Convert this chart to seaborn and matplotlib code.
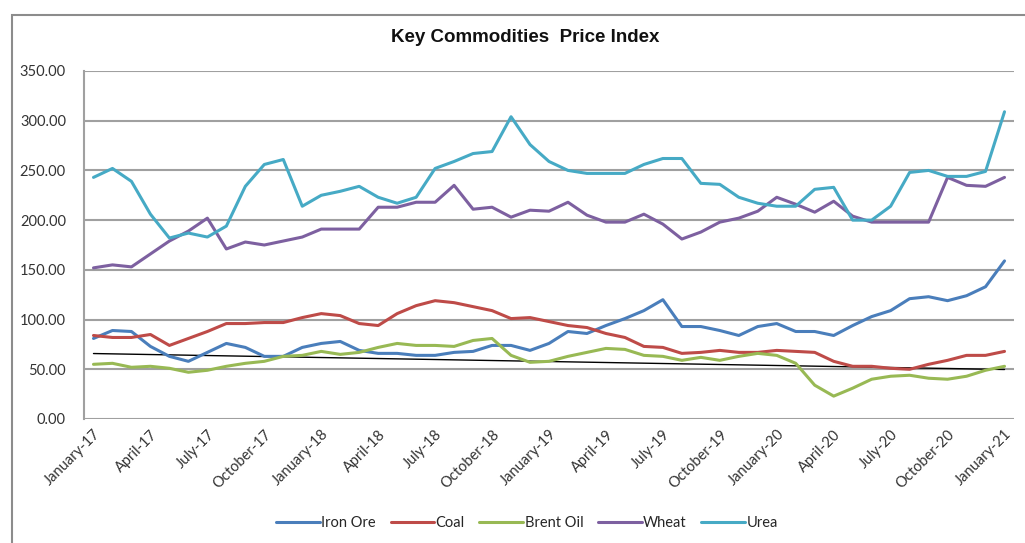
import numpy as np
import pandas as pd
import seaborn as sns
import matplotlib
matplotlib.use("Agg")
from matplotlib import pyplot as plt
from matplotlib.patches import Rectangle

# monthly data, January 2017 .. January 2021
months = pd.date_range("2017-01-01", "2021-01-01", freq="MS")

iron_ore = [81, 89, 88, 73, 63, 58, 67, 76, 72, 63, 63, 72, 76, 78, 69, 66,
            66, 64, 64, 67, 68, 74, 74, 69, 76, 88, 86, 94, 101, 109, 120, 93,
            93, 89, 84, 93, 96, 88, 88, 84, 94, 103, 109, 121, 123, 119, 124, 133,
            159]
coal = [84, 82, 82, 85, 74, 81, 88, 96, 96, 97, 97, 102, 106, 104, 96, 94,
        106, 114, 119, 117, 113, 109, 101, 102, 98, 94, 92, 86, 82, 73, 72, 66,
        67, 69, 67, 67, 69, 68, 67, 58, 53, 53, 51, 50, 55, 59, 64, 64,
        68]
brent_oil = [55, 56, 52, 53, 51, 47, 49, 53, 56, 58, 63, 64, 68, 65, 67, 72,
             76, 74, 74, 73, 79, 81, 64, 57, 58, 63, 67, 71, 70, 64, 63, 59,
             62, 59, 63, 66, 64, 56, 34, 23, 31, 40, 43, 44, 41, 40, 43, 49,
             53]
wheat = [152, 155, 153, 166, 179, 189, 202, 171, 178, 175, 179, 183, 191, 191, 191, 213,
         213, 218, 218, 235, 211, 213, 203, 210, 209, 218, 205, 198, 198, 206, 196, 181,
         188, 198, 202, 209, 223, 216, 208, 219, 204, 198, 198, 198, 198, 243, 235, 234,
         243]
urea = [243, 252, 239, 206, 182, 187, 183, 194, 234, 256, 261, 214, 225, 229, 234, 223,
        217, 223, 252, 259, 267, 269, 304, 276, 259, 250, 247, 247, 247, 256, 262, 262,
        237, 236, 223, 217, 214, 214, 231, 233, 200, 200, 214, 248, 250, 244, 244, 249,
        309]

series_names = ["Iron Ore", "Coal", "Brent Oil", "Wheat", "Urea"]
colors = ["#4A7EBB", "#BE4B48", "#98B954", "#7D60A0", "#46AAC5"]

tick_labels = [m.strftime("%B-%y") for m in months]

df = pd.DataFrame({"Iron Ore": iron_ore, "Coal": coal, "Brent Oil": brent_oil,
                   "Wheat": wheat, "Urea": urea})
df["idx"] = np.arange(len(months))
long_df = df.melt(id_vars="idx", var_name="series", value_name="value")

sns.set_style("white")
plt.rcParams["font.family"] = ["Lato", "DejaVu Sans"]

fig = plt.figure(figsize=(10.25, 5.43), dpi=100)
ax = fig.add_axes([84 / 1025, 1 - 419 / 543, 930 / 1025, 348 / 543])

sns.lineplot(data=long_df, x="idx", y="value", hue="series", hue_order=series_names,
             palette=colors, linewidth=2.2, ax=ax, legend=True)

# linear trend line of Brent Oil
x = np.arange(len(months))
coef = np.polyfit(x, brent_oil, 1)
ax.plot(x, np.polyval(coef, x), color="black", linewidth=1.0, zorder=1.5)

ax.set_xlim(-0.5, len(months) - 0.5)
ax.set_ylim(0, 350)
ax.set_yticks(np.arange(0, 351, 50))
ax.set_yticklabels([f"{v:.2f}" for v in np.arange(0, 351, 50)], fontsize=10.5, color="#333333")
ax.set_xticks(x[::3])
ax.set_xticklabels(tick_labels[::3], rotation=45, ha="right", rotation_mode="anchor",
                   fontsize=10.5, color="#333333")
ax.tick_params(axis="x", length=0, pad=6)
ax.tick_params(axis="y", length=0, pad=13)
ax.grid(axis="y", color="#A0A0A0", linewidth=1.5)
ax.set_axisbelow(True)
for s in ["top", "right", "bottom"]:
    ax.spines[s].set_visible(False)
ax.spines["left"].set_color("#A0A0A0")
ax.spines["left"].set_linewidth(1.5)
ax.set_xlabel("")
ax.set_ylabel("")

handles, labels = ax.get_legend_handles_labels()
ax.legend_.remove()
fig.legend(handles, labels, loc="center", bbox_to_anchor=(527 / 1025, 1 - 523 / 543),
           ncol=5, frameon=False, fontsize=10.5, handlelength=3.0, handletextpad=0.1,
           columnspacing=1.0)

fig.text(525 / 1025, 1 - 38 / 543, "Key Commodities  Price Index", ha="center", va="center",
         fontsize=13.5, fontweight="bold", family=["Liberation Sans", "DejaVu Sans"],
         color="#111111")

# outer chart frame
fig.patches.append(Rectangle((12 / 1025, -0.1), 1.2, 1 - 15 / 543 + 0.1,
                             transform=fig.transFigure, fill=False,
                             edgecolor="#8C8C8C", linewidth=1.5))

fig.savefig("out.png", dpi=100)
